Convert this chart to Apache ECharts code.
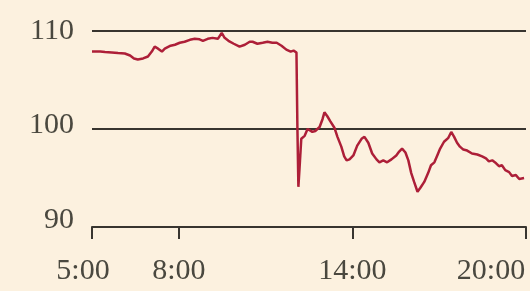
<!DOCTYPE html>
<html>
<head>
<meta charset="utf-8">
<script src="https://cdn.jsdelivr.net/npm/echarts@6/dist/echarts.min.js"></script>
<style>
  html, body { margin: 0; padding: 0; background: #fcf1df; }
  #chart { width: 530px; height: 291px; }
</style>
</head>
<body>
<div id="chart"></div>
<script>
// Time in minutes since midnight
const timeMinutes = [300,317,327,341,354,368,379,387,395,406,416,424,430,437,445,451,455,463,472,482,492,503,513,523,530,540,550,561,569,575,583,594,606,617,627,633,643,654,664,674,683,693,703,712,718,722,724,726,728,731,734,741,747,751,757,763,772,778,782,788,794,803,809,817,823,828,834,842,850,859,865,873,881,890,896,904,912,921,931,937,943,950,956,962,968,975,981,989,997,1003,1010,1016,1022,1030,1039,1045,1051,1057,1063,1070,1078,1088,1099,1109,1117,1123,1130,1138,1144,1150,1157,1165,1171,1179,1186,1190,1196];
const priceValues = [107.9,107.9,107.85,107.8,107.75,107.7,107.5,107.2,107.1,107.2,107.4,107.9,108.4,108.2,107.9,108.2,108.3,108.5,108.6,108.8,108.9,109.1,109.2,109.15,109.0,109.2,109.3,109.2,109.8,109.3,109.0,108.7,108.4,108.6,108.9,108.9,108.7,108.8,108.9,108.8,108.8,108.5,108.1,107.9,108.0,107.9,107.8,100.0,94.1,96.5,99.0,99.3,100.0,100.2,99.7,99.8,100.2,101.0,101.7,101.3,100.8,100.1,99.2,98.2,97.2,96.8,96.9,97.3,98.3,99.0,99.2,98.6,97.5,96.9,96.6,96.8,96.6,96.9,97.3,97.7,98.0,97.6,96.8,95.5,94.6,93.6,94.0,94.6,95.5,96.3,96.6,97.3,98.0,98.7,99.1,99.7,99.2,98.6,98.2,97.9,97.8,97.5,97.4,97.2,97.0,96.7,96.8,96.5,96.2,96.3,95.8,95.6,95.2,95.3,94.9,94.8,95.0];
const xTickMinutes = [300, 480, 840, 1200];
const xTickLabels = ['5:00', '8:00', '14:00', '20:00'];
const yTicks = [90, 100, 110];

const seriesData = timeMinutes.map((t, i) => [t, priceValues[i]]);
const textColor = '#4a483f';
const lineColor = '#38352f';
const fontFamily = '"Liberation Serif", "DejaVu Serif", serif';
const fs = 30;

const chart = echarts.init(document.getElementById('chart'));
chart.setOption({
  backgroundColor: '#fcf1df',
  animation: false,
  grid: { left: 92, right: 4, top: 31, bottom: 64, containLabel: false, outerBoundsMode: 'none' },
  xAxis: {
    type: 'value',
    min: xTickMinutes[0],
    max: xTickMinutes[xTickMinutes.length - 1],
    axisLine: { show: true, lineStyle: { color: lineColor, width: 2 } },
    axisTick: { show: true, customValues: xTickMinutes, length: 12, lineStyle: { color: lineColor, width: 2 } },
    splitLine: { show: false },
    axisLabel: {
      customValues: xTickMinutes,
      margin: 29,
      showMinLabel: true,
      showMaxLabel: true,
      hideOverlap: false,
      formatter: function (v) {
        const i = xTickMinutes.indexOf(v);
        const key = i === 0 ? 'a' : (i === xTickMinutes.length - 1 ? 'c' : 'b');
        return '{' + key + '|' + xTickLabels[i] + '}';
      },
      rich: {
        a: { fontSize: fs, fontFamily: fontFamily, color: textColor, padding: [0, 18, 0, 0] },
        b: { fontSize: fs, fontFamily: fontFamily, color: textColor },
        c: { fontSize: fs, fontFamily: fontFamily, color: textColor, padding: [0, 70, 0, 0] }
      }
    }
  },
  yAxis: {
    type: 'value',
    min: yTicks[0],
    max: yTicks[yTicks.length - 1],
    interval: 10,
    axisLine: { show: false },
    axisTick: { show: false },
    splitLine: { show: true, lineStyle: { color: lineColor, width: 2 } },
    axisLabel: {
      margin: 18,
      showMinLabel: true,
      showMaxLabel: true,
      formatter: function (v) {
        if (v === 90) return '{c|' + v + '}';
        if (v === 100) return '{b|' + v + '}';
        return '{a|' + v + '}';
      },
      rich: {
        a: { fontSize: fs, fontFamily: fontFamily, color: textColor },
        b: { fontSize: fs, fontFamily: fontFamily, color: textColor, padding: [0, 0, 8, 0] },
        c: { fontSize: fs, fontFamily: fontFamily, color: textColor, padding: [0, 0, 14, 0] }
      }
    }
  },
  series: [{
    type: 'line',
    data: seriesData,
    showSymbol: false,
    smooth: false,
    lineStyle: { color: '#ad1f38', width: 2.5 },
    z: 5
  }]
});
</script>
</body>
</html>
